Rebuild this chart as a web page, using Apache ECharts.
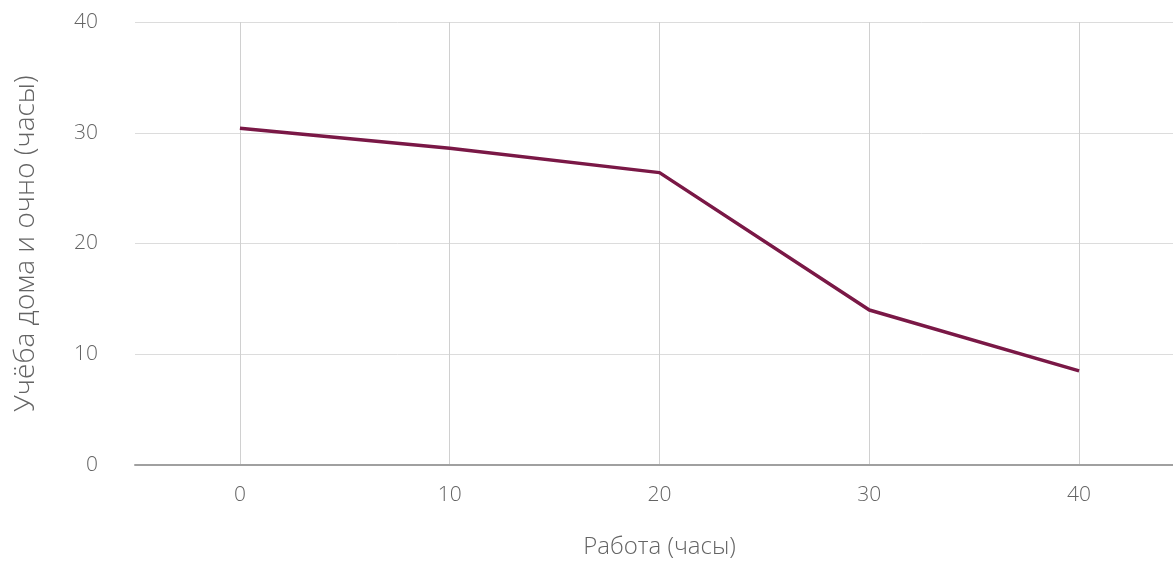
<!DOCTYPE html>
<html>
<head>
<meta charset="utf-8">
<script src="https://cdn.jsdelivr.net/npm/echarts@6/dist/echarts.min.js"></script>
<style>
html,body{margin:0;padding:0;background:#fff;overflow:hidden;}
#chart{width:1184px;height:564px;}
</style>
</head>
<body>
<div id="chart"></div>
<script>
const workHours = [0, 10, 20, 30, 40];
const studyHours = [30.4, 28.6, 26.4, 14.0, 8.5];
const xTicks = [0, 10, 20, 30, 40];
const xName = 'Работа (часы)';
const yName = 'Учёба дома и очно (часы)';

const chart = echarts.init(document.getElementById('chart'), null, {renderer: 'canvas'});
const font = '"Open Sans", "DejaVu Sans", sans-serif';
chart.setOption({
  animation: false,
  backgroundColor: '#ffffff',
  grid: {left: 135, right: 0, top: 22, bottom: 98, containLabel: false},
  xAxis: {
    type: 'value',
    min: -5,
    max: 45,
    name: xName,
    nameLocation: 'middle',
    nameGap: 70,
    nameTextStyle: {fontFamily: font, fontSize: 24, fontWeight: 300, color: '#646464'},
    axisLine: {show: true, lineStyle: {color: '#a0a0a0', width: 2}},
    axisTick: {show: false, customValues: xTicks},
    axisLabel: {customValues: xTicks, fontFamily: font, fontSize: 21, fontWeight: 300, color: '#646464', margin: 20},
    splitLine: {show: true, lineStyle: {color: '#d0d0d0', width: 1}}
  },
  yAxis: {
    type: 'value',
    min: 0,
    max: 40,
    interval: 10,
    name: yName,
    nameLocation: 'middle',
    nameGap: 95,
    nameTextStyle: {fontFamily: font, fontSize: 28, fontWeight: 300, color: '#646464'},
    axisLine: {show: false},
    axisTick: {show: false},
    axisLabel: {fontFamily: font, fontSize: 21, fontWeight: 300, color: '#646464', margin: 37},
    splitLine: {show: true, lineStyle: {color: '#dcdcdc', width: 1}}
  },
  series: [{
    type: 'line',
    data: workHours.map((x, i) => [x, studyHours[i]]),
    showSymbol: false,
    symbol: 'none',
    lineStyle: {color: '#7a1846', width: 3.5},
    itemStyle: {color: '#7a1846'}
  }]
});
</script>
</body>
</html>
